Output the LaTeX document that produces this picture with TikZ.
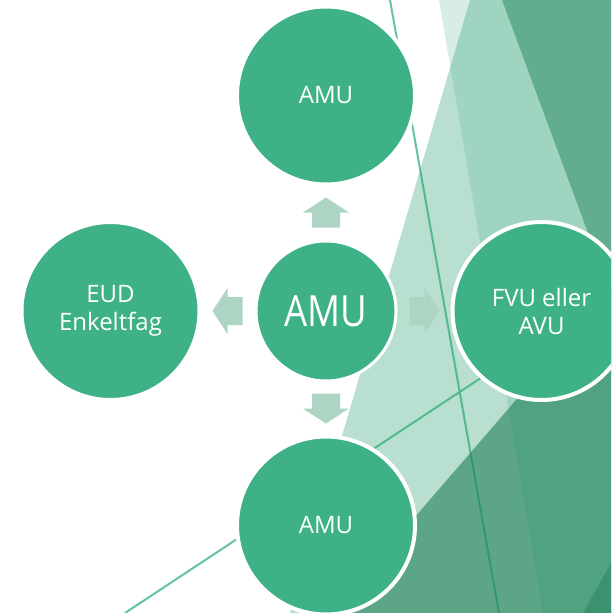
\documentclass[tikz,border=0pt]{standalone}
\usepackage{fontspec}
\setmainfont{Open Sans}
\newfontfamily\hubfont{Open Sans}[FakeStretch=0.85]
\usetikzlibrary{positioning}

\definecolor{facet}{RGB}{51,164,121}
\definecolor{facetdark}{RGB}{30,129,87}
\definecolor{discfill}{RGB}{62,178,134}
\definecolor{arrowfill}{RGB}{174,212,195}
\definecolor{strand}{RGB}{100,196,158}

\tikzset{
    blockarrow/.pic={
        \fill[arrowfill] (-30,-14) -- (-15,-14) -- (-15,-23) -- (0,0) -- (-15,23) -- (-15,14) -- (-30,14) -- cycle;
    }
}

\begin{document}
\begin{tikzpicture}[x=1pt,y=-1pt,
        disc/.style={circle, fill=discfill, draw=white, line width=4pt, minimum size=178pt,
            inner sep=0pt, text=white, align=center, font=\fontsize{24}{28}\selectfont},
        hub/.style={disc, minimum size=140pt, line width=3pt, font=\hubfont\fontsize{43}{46}\selectfont}]
                \useasboundingbox (0,0) rectangle (611,613);
                \clip (0,0) rectangle (611,613);
                \fill[white] (0,0) rectangle (611,613);
                \draw[strand, line width=2pt] (390,0) -- (499,613);
                \draw[strand, line width=2pt] (125,613) -- (611,292);
                \fill[facet, opacity=0.19] (439,0) -- (611,0) -- (611,613) -- (543,613) -- cycle;
                \fill[facet, opacity=0.34] (470,0) -- (611,0) -- (611,613) -- (290,613) -- cycle;
                \fill[facetdark, opacity=0.46] (502,0) -- (611,0) -- (611,295) -- cycle;
                \fill[facetdark, opacity=0.6] (611,290) -- (611,613) -- (332,613) -- cycle;
                \fill[facetdark, opacity=0.45] (611,563) -- (611,613) -- (583,613) -- cycle;

                \node[hub] (hub) at (326,311) {AMU};
                \node[disc, above=53pt of hub] (upper) {AMU};
                \node[disc, left=53pt of hub] (eud) {EUD\\Enkeltfag};
                \node[disc, right=53pt of hub] (fvu) {FVU eller\\AVU};
                \node[disc, below=52pt of hub] (lower) {AMU};

                \pic[rotate=90] at ([yshift=42pt]hub.north) {blockarrow};
                \pic[rotate=180] at ([xshift=-42pt]hub.west) {blockarrow};
                \pic at ([xshift=42pt]hub.east) {blockarrow};
                \pic[rotate=-90] at ([yshift=-41pt]hub.south) {blockarrow};
            \end{tikzpicture}
\end{document}
